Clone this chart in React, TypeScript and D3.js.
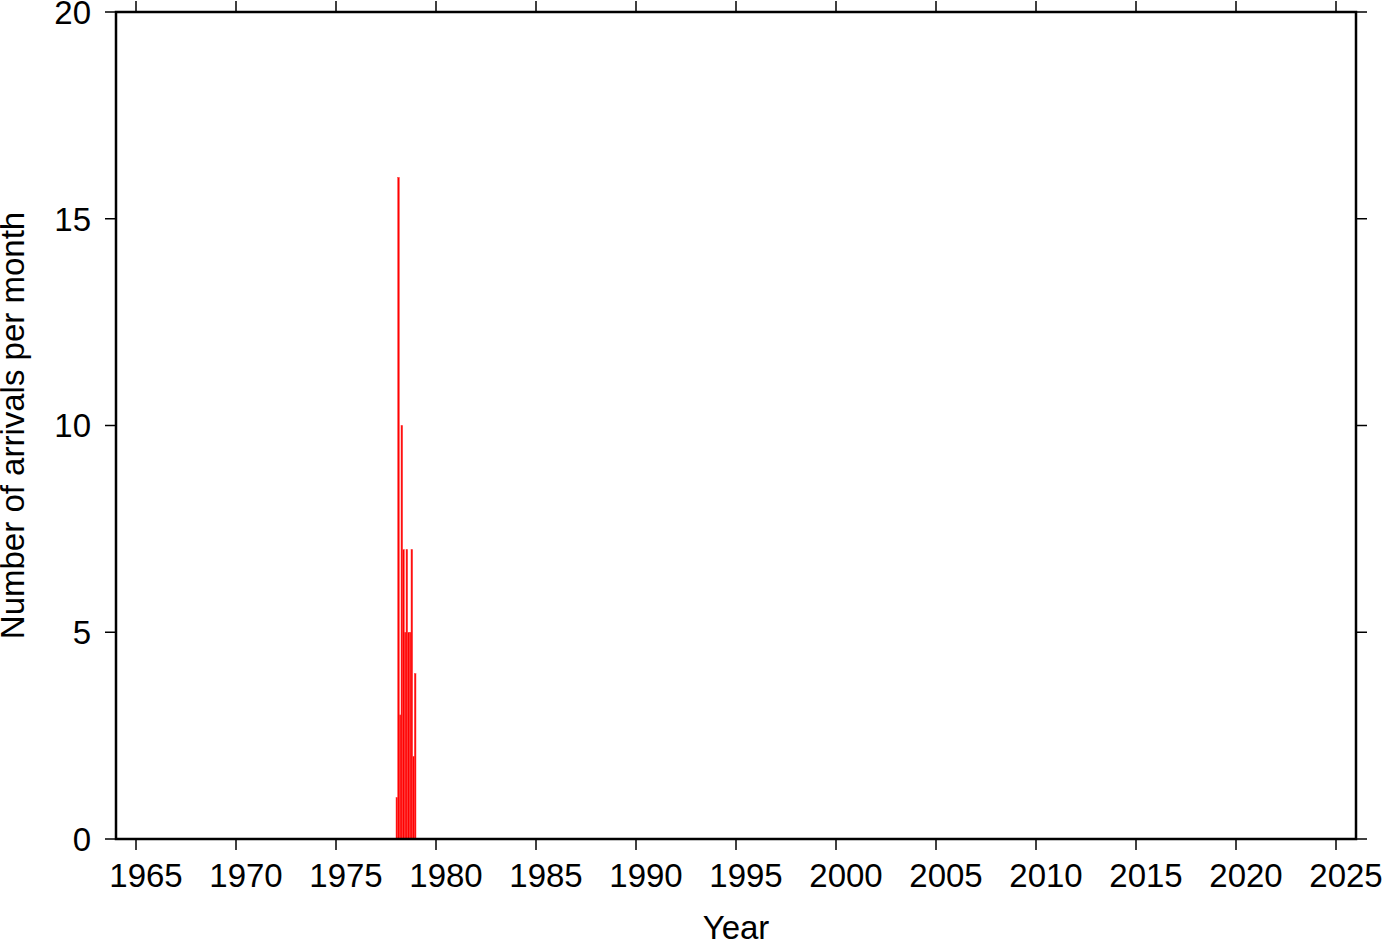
import React from "react";
import * as d3 from "d3";

const startYear = 1978;
const monthlyCounts = [1, 16, 3, 10, 7, 5, 7, 5, 5, 7, 2, 4];
const xTicks = [1965, 1970, 1975, 1980, 1985, 1990, 1995, 2000, 2005, 2010, 2015, 2020, 2025];
const yTicks = [0, 5, 10, 15, 20];
const xLabel = "Year";
const yLabel = "Number of arrivals per month";

const W = 1382;
const H = 942;
const left = 116, right = 1356, top = 12, bottom = 839;
const font = "'Liberation Sans', Arial, Helvetica, sans-serif";
const fs = 33;

export default function App() {
  const x = d3.scaleLinear().domain([1964, 2026]).range([left, right]);
  const y = d3.scaleLinear().domain([0, 20]).range([bottom, top]);
  const tl = 11;
  return (
    <svg width={W} height={H} style={{ position: "absolute", left: 0, top: 0 }} fontFamily={font}>
      <rect width={W} height={H} fill="white" />
      {monthlyCounts.map((v, i) => {
        const x0 = x(startYear + i / 12);
        const x1 = x(startYear + (i + 1) / 12);
        return (
          <rect key={i} x={x0} y={y(v)} width={x1 - x0} height={y(0) - y(v)}
            fill="#ff0000" stroke="#ff4040" strokeWidth={0.5} />
        );
      })}
      {xTicks.map((t) => (
        <g key={t}>
          <line x1={x(t)} x2={x(t)} y1={bottom} y2={bottom + tl} stroke="black" strokeWidth={1.5} />
          <line x1={x(t)} x2={x(t)} y1={top} y2={top - tl} stroke="black" strokeWidth={1.5} />
          <text x={x(t) + 10} y={bottom + 48} fontSize={fs} textAnchor="middle">{t}</text>
        </g>
      ))}
      {yTicks.map((t) => (
        <g key={t}>
          <line x1={left} x2={left - tl} y1={y(t)} y2={y(t)} stroke="black" strokeWidth={1.5} />
          <line x1={right} x2={right + tl} y1={y(t)} y2={y(t)} stroke="black" strokeWidth={1.5} />
          <text x={left - 25} y={y(t)} dy="0.36em" fontSize={fs} textAnchor="end">{t}</text>
        </g>
      ))}
      <rect x={left} y={top} width={right - left} height={bottom - top} fill="none" stroke="black" strokeWidth={2.5} />
      <text x={(left + right) / 2} y={939} fontSize={fs} textAnchor="middle">{xLabel}</text>
      <text transform={`translate(24,${(top + bottom) / 2}) rotate(-90)`} fontSize={fs} textAnchor="middle">{yLabel}</text>
    </svg>
  );
}
